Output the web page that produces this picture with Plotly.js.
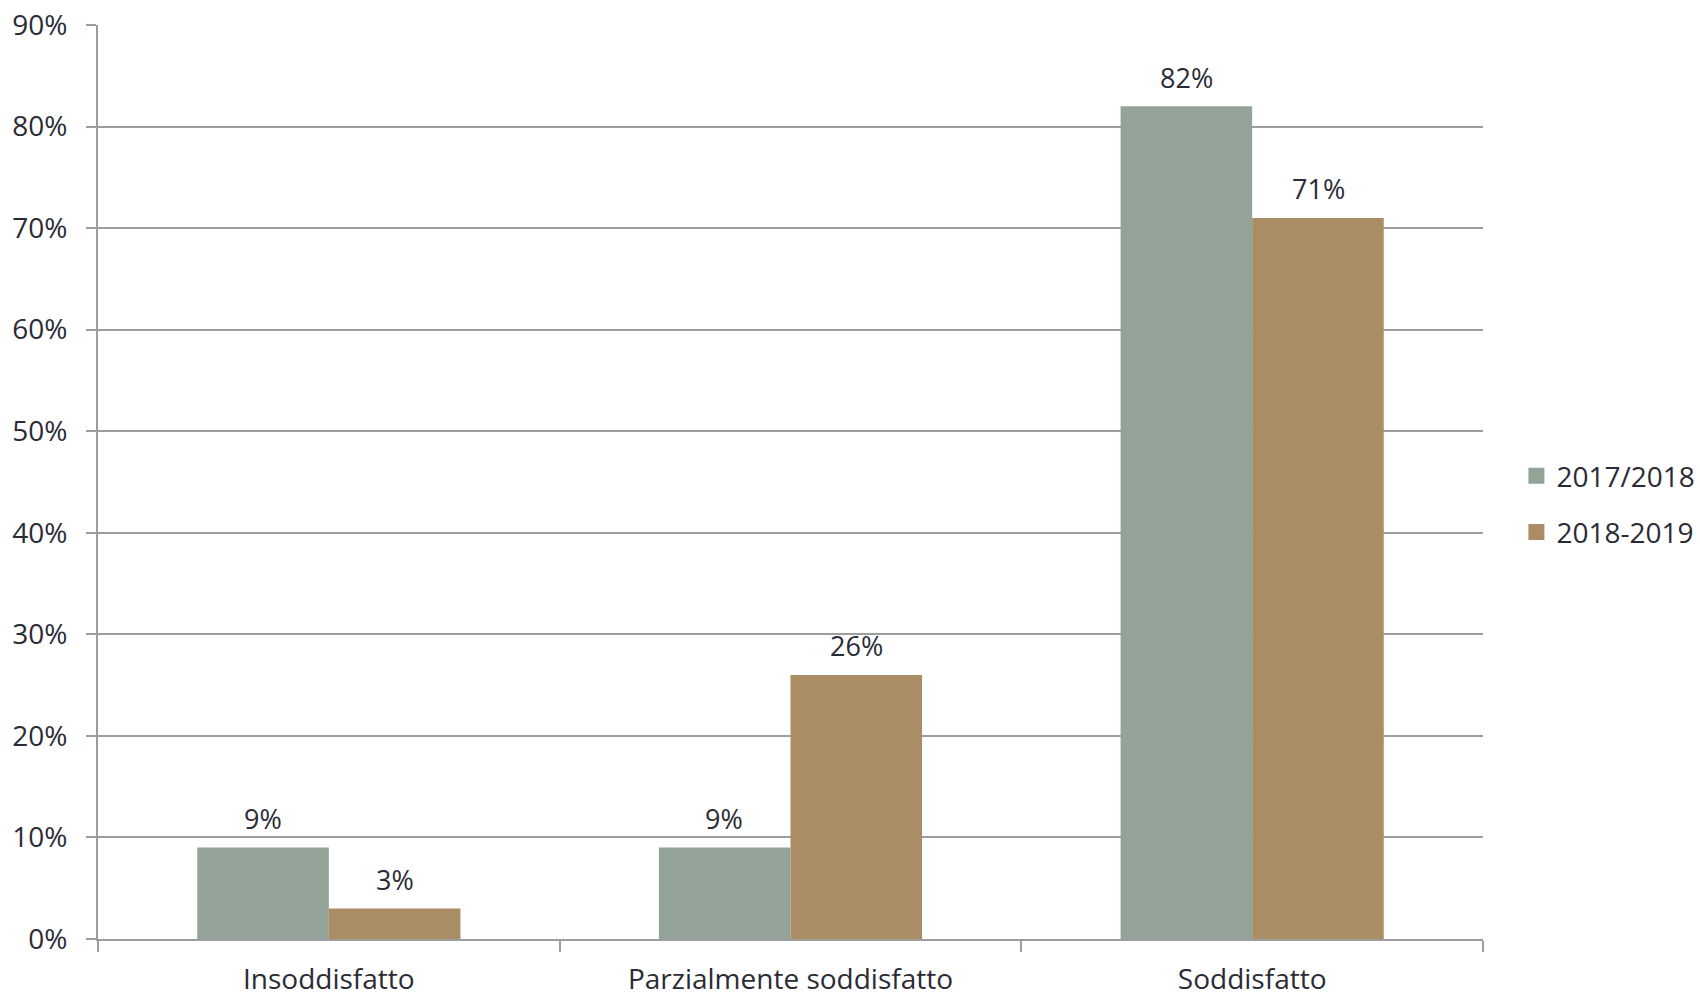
<!DOCTYPE html>
<html>
<head>
<meta charset="utf-8">
<script src="https://cdn.plot.ly/plotly-3.0.1.min.js"></script>
<style>html,body{margin:0;padding:0;background:#fff;}#chart{width:1700px;height:996px;}</style>
</head>
<body>
<div id="chart"></div>
<script>
const categories = ["Insoddisfatto", "Parzialmente soddisfatto", "Soddisfatto"];
const seriesNames = ["2017/2018", "2018-2019"];
const values2017 = [9, 9, 82];
const values2018 = [3, 26, 71];
const yTicks = [0, 10, 20, 30, 40, 50, 60, 70, 80, 90];

const colors = ["#93a398", "#ab8d65"];
const fontFam = "'Open Sans', 'Noto Sans', sans-serif";
const textColor = "#2b2b36";
const gridColor = "#9d9d9d";

const traces = [values2017, values2018].map((vals, i) => ({
  type: "bar",
  name: seriesNames[i],
  x: categories,
  y: vals,
  marker: {color: colors[i], line: {width: 0}},
  legendgroup: "g" + i,
  showlegend: false,
  hoverinfo: "none"
}));

// legend-only entries with larger square swatches
const legendTraces = seriesNames.map((name, i) => ({
  type: "scatter",
  mode: "markers",
  name: name,
  x: [categories[0]],
  y: [null],
  marker: {symbol: "square", size: 16, color: colors[i]},
  legendgroup: "g" + i,
  showlegend: true,
  hoverinfo: "none"
}));

const halfBar = 0.143;
const annotations = [];
[values2017, values2018].forEach((vals, i) => {
  vals.forEach((v, j) => {
    annotations.push({
      xref: "x", yref: "y",
      x: j + (i === 0 ? -halfBar : halfBar),
      y: v,
      text: v + "%",
      showarrow: false,
      yanchor: "middle",
      yshift: 29,
      font: {family: fontFam, size: 27, color: textColor}
    });
  });
});

const layout = {
  width: 1700, height: 996,
  margin: {l: 98, r: 217, t: 25, b: 57, autoexpand: false},
  paper_bgcolor: "#ffffff",
  plot_bgcolor: "#ffffff",
  barmode: "group",
  bargap: 0.43,
  bargroupgap: 0,
  font: {family: fontFam, color: textColor, size: 28},
  showlegend: true,
  legend: {
    xref: "container",
    x: 0.892, xanchor: "left",
    y: 0.476, yanchor: "middle",
    itemsizing: "trace",
    font: {family: fontFam, size: 28, color: textColor},
    tracegroupgap: 17,
    bgcolor: "rgba(0,0,0,0)"
  },
  xaxis: {
    type: "category",
    range: [-0.5, 2.5],
    showgrid: false,
    showline: true,
    linecolor: gridColor,
    linewidth: 2,
    ticks: "outside",
    tickson: "boundaries",
    ticklen: 11,
    tickwidth: 2,
    tickcolor: gridColor,
    ticklabelstandoff: 14,
    tickfont: {family: fontFam, size: 28, color: textColor},
    fixedrange: true
  },
  yaxis: {
    range: [0, 90],
    tickvals: yTicks,
    ticktext: yTicks.map(t => t + "%"),
    showgrid: true,
    gridcolor: gridColor,
    gridwidth: 2,
    zeroline: false,
    showline: true,
    linecolor: gridColor,
    linewidth: 2,
    ticks: "outside",
    ticklen: 10,
    tickwidth: 2,
    tickcolor: gridColor,
    ticklabelstandoff: 13,
    tickfont: {family: fontFam, size: 28, color: textColor},
    fixedrange: true
  },
  annotations: annotations
};

Plotly.newPlot("chart", traces.concat(legendTraces), layout, {displayModeBar: false, staticPlot: true});
</script>
</body>
</html>
